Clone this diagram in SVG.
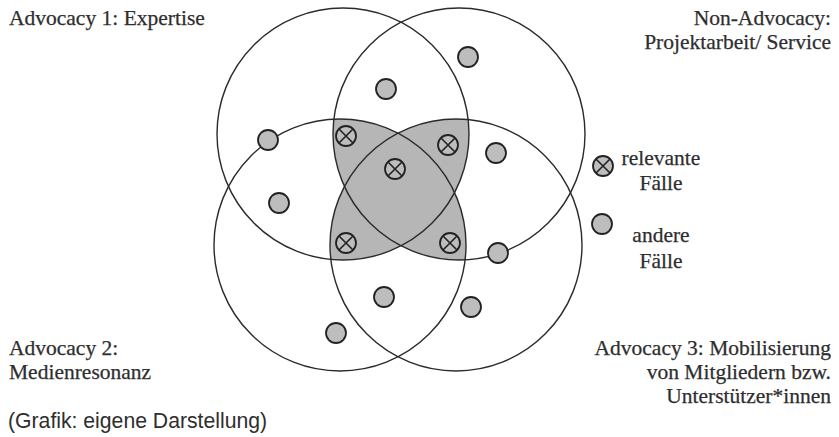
<svg xmlns="http://www.w3.org/2000/svg" xmlns:xlink="http://www.w3.org/1999/xlink" width="839" height="437" viewBox="0 0 839 437">
<style>
.big{fill:none;stroke:#2b2b2b;stroke-width:1.4}
.shade{fill:#b6b6b6}
.dot{fill:#bdbdbd;stroke:#222;stroke-width:1.8}
.x{stroke:#222;stroke-width:1.6;fill:none}
.lbl{font-family:"Liberation Serif","DejaVu Serif",serif;font-size:21.5px;fill:#2e2e2e;stroke:#2e2e2e;stroke-width:0.25}
.src{font-family:"Liberation Sans",Arial,sans-serif;font-size:21.2px;fill:#2e2e2e}
</style>
<defs>
<clipPath id="cTL"><circle cx="343" cy="134" r="126"/></clipPath>
<clipPath id="cTR"><circle cx="459" cy="134" r="126"/></clipPath>
<clipPath id="cBL"><circle cx="340" cy="245" r="126"/></clipPath>
<clipPath id="cBR"><circle cx="456" cy="245" r="126"/></clipPath>
<g id="dot"><circle class="dot" r="10"/></g>
<g id="rel"><circle class="dot" r="10"/><path class="x" d="M-7,-7L7,7M-7,7L7,-7"/></g>
</defs>
<g id="shaded">
<g clip-path="url(#cBL)"><circle class="shade" cx="459" cy="134" r="126" clip-path="url(#cTL)"/></g>
<g clip-path="url(#cBR)"><circle class="shade" cx="459" cy="134" r="126" clip-path="url(#cTL)"/></g>
<g clip-path="url(#cBR)"><circle class="shade" cx="340" cy="245" r="126" clip-path="url(#cTL)"/></g>
<g clip-path="url(#cBR)"><circle class="shade" cx="340" cy="245" r="126" clip-path="url(#cTR)"/></g>
</g>
<g id="set-advocacy1"><circle class="big" cx="343" cy="134" r="126"/><text class="lbl" x="9" y="25">Advocacy 1: Expertise</text></g>
<g id="set-nonadvocacy"><circle class="big" cx="459" cy="134" r="126"/><text class="lbl" text-anchor="end"><tspan x="831" y="25">Non-Advocacy:</tspan><tspan x="831" y="49">Projektarbeit/ Service</tspan></text></g>
<g id="set-advocacy2"><circle class="big" cx="340" cy="245" r="126"/><text class="lbl"><tspan x="9" y="355">Advocacy 2:</tspan><tspan x="9" y="379">Medienresonanz</tspan></text></g>
<g id="set-advocacy3"><circle class="big" cx="456" cy="245" r="126"/><text class="lbl" text-anchor="end"><tspan x="831" y="355">Advocacy 3: Mobilisierung</tspan><tspan x="831" y="379">von Mitgliedern bzw.</tspan><tspan x="831" y="403">Unterstützer*innen</tspan></text></g>
<g id="cases">
<use xlink:href="#dot" x="468" y="57"/>
<use xlink:href="#dot" x="386" y="89"/>
<use xlink:href="#dot" x="268" y="140"/>
<use xlink:href="#dot" x="496" y="153"/>
<use xlink:href="#dot" x="279" y="203"/>
<use xlink:href="#dot" x="498" y="253"/>
<use xlink:href="#dot" x="384" y="297"/>
<use xlink:href="#dot" x="471" y="307"/>
<use xlink:href="#dot" x="336" y="333"/>
<use xlink:href="#rel" x="346" y="136"/>
<use xlink:href="#rel" x="448" y="145"/>
<use xlink:href="#rel" x="395" y="169"/>
<use xlink:href="#rel" x="346" y="243"/>
<use xlink:href="#rel" x="450" y="243"/>
</g>
<g id="legend">
<use xlink:href="#rel" x="603" y="166"/>
<text class="lbl" text-anchor="middle"><tspan x="661" y="165">relevante</tspan><tspan x="661" y="190">Fälle</tspan></text>
<use xlink:href="#dot" x="602" y="224"/>
<text class="lbl" text-anchor="middle"><tspan x="661" y="242">andere</tspan><tspan x="661" y="268">Fälle</tspan></text>
</g>
<text class="src" x="8" y="428">(Grafik: eigene Darstellung)</text>
</svg>
